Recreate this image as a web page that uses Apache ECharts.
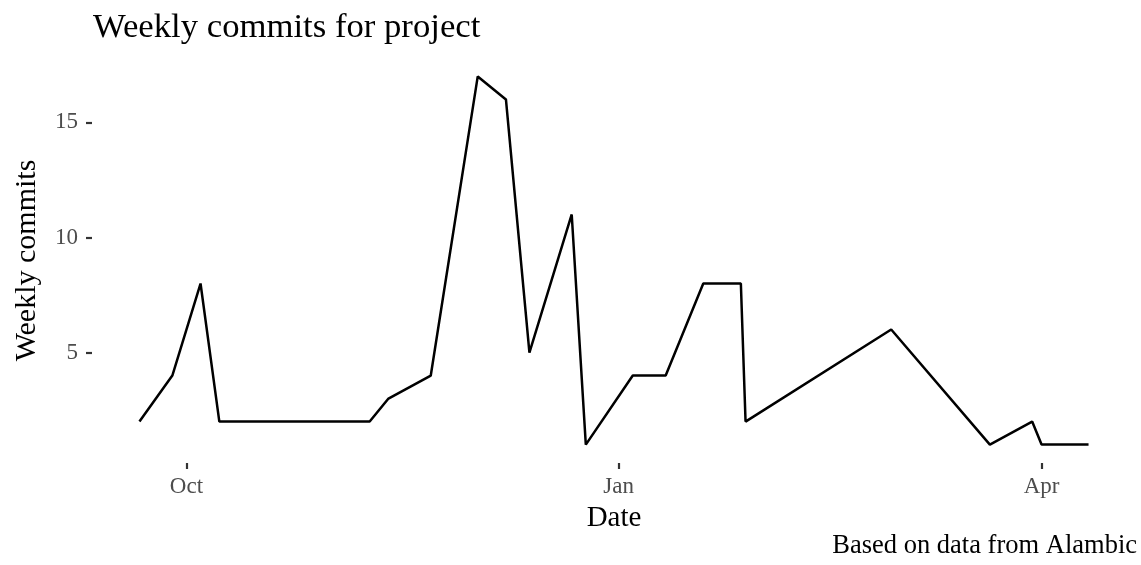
<!DOCTYPE html>
<html>
<head>
<meta charset="utf-8">
<script src="https://cdn.jsdelivr.net/npm/echarts@6/dist/echarts.min.js"></script>
<style>
html,body{margin:0;padding:0;background:#fff;}
#chart{width:1141px;height:565px;}
</style>
</head>
<body>
<div id="chart"></div>
<script>
const dates = ['2017-09-21','2017-09-28','2017-10-04','2017-10-08','2017-11-09','2017-11-13','2017-11-22',
  '2017-12-02','2017-12-08','2017-12-13','2017-12-22','2017-12-25','2018-01-04','2018-01-11','2018-01-19',
  '2018-01-27','2018-01-28','2018-02-28','2018-03-21','2018-03-30','2018-04-01','2018-04-11'];
const commits = [2,4,8,2,2,3,4,17,16,5,11,1,4,4,8,8,2,6,1,2,1,1];
const xTickDates = ['2017-10-01','2018-01-01','2018-04-01'];
const xTickLabels = ['Oct','Jan','Apr'];
const yTicks = [5,10,15];

const FONT = 'Liberation Serif';
const DAY = 86400000;
const toDay = s => { const p = s.split('-').map(Number); return Math.round(Date.UTC(p[0], p[1]-1, p[2]) / DAY); };
const days = dates.map(toDay);
const xTicks = xTickDates.map(toDay);
const span = days[days.length-1] - days[0];
const xMin = days[0] - 0.05*span, xMax = days[days.length-1] + 0.05*span;
const yLo = Math.min(...commits), yHi = Math.max(...commits);
const yMin = yLo - 0.05*(yHi-yLo), yMax = yHi + 0.05*(yHi-yLo);

const chart = echarts.init(document.getElementById('chart'), null, {renderer:'canvas'});
chart.setOption({
  animation:false,
  backgroundColor:'#ffffff',
  title:{
    text:'Weekly commits for project',
    left:93, top:10, padding:0,
    textStyle:{fontFamily:FONT, fontSize:34.7, fontWeight:'normal', color:'#000'}
  },
  grid:{left:92, right:5, top:58, bottom:102},
  xAxis:{
    type:'value', min:xMin, max:xMax,
    name:'Date', nameLocation:'middle', nameGap:41,
    nameTextStyle:{fontFamily:FONT, fontSize:29, color:'#000'},
    axisLine:{show:false},
    splitLine:{show:false},
    axisTick:{show:true, length:6, lineStyle:{color:'#333', width:2.2}, customValues:xTicks},
    axisLabel:{
      customValues:xTicks, margin:12,
      fontFamily:FONT, fontSize:23, color:'#4D4D4D',
      formatter:(v)=>{ const i = xTicks.indexOf(Math.round(v)); return i>=0 ? xTickLabels[i] : ''; }
    }
  },
  yAxis:{
    type:'value', min:yMin, max:yMax,
    name:'Weekly commits', nameLocation:'middle', nameGap:50, nameRotate:90,
    nameTextStyle:{fontFamily:FONT, fontSize:30, color:'#000'},
    axisLine:{show:false},
    splitLine:{show:false},
    axisTick:{show:true, length:6, lineStyle:{color:'#333', width:2.2}, customValues:yTicks},
    axisLabel:{customValues:yTicks, margin:14, fontFamily:FONT, fontSize:23, color:'#4D4D4D'}
  },
  graphic:[{
    type:'text', right:4, top:533,
    style:{text:'Based on data from Alambic', font:'26.5px "Liberation Serif"', fill:'#000'}
  }],
  series:[{
    type:'line',
    data:days.map((d,i)=>[d, commits[i]]),
    showSymbol:false,
    lineStyle:{color:'#000', width:2.5},
    itemStyle:{color:'#000'}
  }]
});
</script>
</body>
</html>
